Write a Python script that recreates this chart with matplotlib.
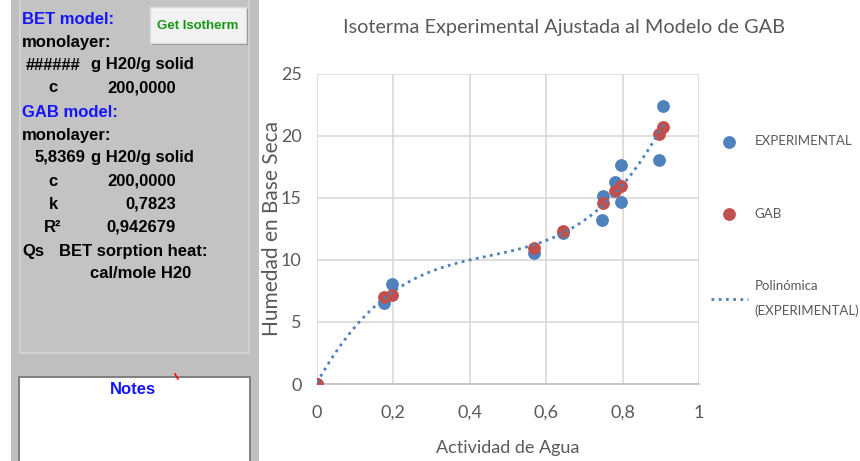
import numpy as np
import matplotlib
matplotlib.use("Agg")
import matplotlib.pyplot as plt
from matplotlib.patches import Rectangle

# ── data ───────────────────────────────────────────────────────────────────────
aw_exp = [0.0, 0.176, 0.196, 0.568, 0.645, 0.747, 0.749, 0.780, 0.795, 0.795, 0.895, 0.906]
hum_exp = [0.0, 6.5, 8.1, 10.6, 12.15, 13.2, 15.2, 16.3, 17.7, 14.7, 18.1, 22.4]

aw_gab = [0.0, 0.176, 0.196, 0.568, 0.645, 0.749, 0.780, 0.795, 0.895, 0.906]
hum_gab = [0.0, 7.05, 7.15, 11.0, 12.3, 14.6, 15.6, 16.0, 20.2, 20.7]

x_ticks = [0, 0.2, 0.4, 0.6, 0.8, 1.0]
x_ticklabels = ["0", "0,2", "0,4", "0,6", "0,8", "1"]
y_ticks = [0, 5, 10, 15, 20, 25]

BLUE = "#4f81bd"
RED = "#c0504d"
GRAY_TXT = "#595959"
CHART_FONT = ["Lato", "DejaVu Sans"]
SANS = ["Liberation Sans", "DejaVu Sans"]

W, H = 860, 461
fig = plt.figure(figsize=(W / 100, H / 100), dpi=100)
fig.patch.set_facecolor("white")

# ── left form panel (pixel coordinates) ───────────────────────────────────────
pan = fig.add_axes([0, 0, 1, 1], zorder=0)
pan.set_xlim(0, W)
pan.set_ylim(H, 0)
pan.axis("off")

pan.add_patch(Rectangle((11, 0), 248, H, facecolor="#c0c0c0", edgecolor="none"))
pan.add_patch(Rectangle((20, -2), 229, 355, facecolor="#c3c3c3", edgecolor="#d6d6d6", lw=1.2))
pan.add_patch(Rectangle((19, 377), 231, 90, facecolor="white", edgecolor="#7f7f7f", lw=1.4))
pan.plot([175, 178], [374, 379], color="red", lw=1.2)

# button
pan.add_patch(Rectangle((152, 9), 96, 36, facecolor="#8a8a8a", edgecolor="none"))
pan.add_patch(Rectangle((150, 7), 96, 36, facecolor="#f2f2f2", edgecolor="#dcdcdc", lw=1))
pan.text(198, 26, "Get Isotherm", color="#149614", fontsize=9.5, fontweight="bold",
         family=SANS, ha="center", va="center")

kw = dict(fontsize=12, fontweight="bold", family=SANS, va="center")
pan.text(22, 19, "BET model:", color="#1414ff", ha="left", **kw)
pan.text(22, 42, "monolayer:", color="black", ha="left", **kw)
pan.text(26, 65, "######", color="black", ha="left", **kw)
pan.text(91, 65, "g H20/g solid", color="black", ha="left", **kw)
pan.text(53, 88, "c", color="black", ha="center", **kw)
pan.text(176, 88, "200,0000", color="black", ha="right", **kw)
pan.text(22, 112, "GAB model:", color="#1414ff", ha="left", **kw)
pan.text(22, 135, "monolayer:", color="black", ha="left", **kw)
pan.text(35, 157, "5,8369", color="black", ha="left", **kw)
pan.text(91, 157, "g H20/g solid", color="black", ha="left", **kw)
pan.text(53, 181, "c", color="black", ha="center", **kw)
pan.text(176, 181, "200,0000", color="black", ha="right", **kw)
pan.text(53, 204, "k", color="black", ha="center", **kw)
pan.text(176, 204, "0,7823", color="black", ha="right", **kw)
pan.text(53, 227, "R²", color="black", ha="center", **kw)
pan.text(176, 227, "0,942679", color="black", ha="right", **kw)
pan.text(22, 251, "Qs", color="black", ha="left", **kw)
pan.text(59, 251, "BET sorption heat:", color="black", ha="left", **kw)
pan.text(90, 273, "cal/mole H20", color="black", ha="left", **kw)
pan.text(133, 389, "Notes", color="#1414ff", ha="center", **kw)

# ── chart ──────────────────────────────────────────────────────────────────────
ax_l, ax_b, ax_w, ax_h = 317, 77, 382, 310
ax = fig.add_axes([ax_l / W, ax_b / H, ax_w / W, ax_h / H], zorder=2)
ax.set_facecolor("none")

ax.scatter(aw_exp, hum_exp, s=85, color=BLUE, zorder=3, linewidths=0, label="EXPERIMENTAL")
ax.scatter(aw_gab, hum_gab, s=85, color=RED, zorder=4, linewidths=0, label="GAB")

# Excel-style polynomial trendline of the experimental series
coef = np.polyfit(aw_exp, hum_exp, 3)
xs = np.linspace(min(aw_exp), max(aw_exp), 200)
ax.plot(xs, np.polyval(coef, xs), color=BLUE, lw=2, ls=(0, (1, 1.6)), zorder=5,
        label="Polinómica\n(EXPERIMENTAL)")

ax.set_xlim(0, 1)
ax.set_ylim(0, 25)
ax.set_xticks(x_ticks)
ax.set_xticklabels(x_ticklabels)
ax.set_yticks(y_ticks)
ax.grid(True, color="#d9d9d9", lw=1.2, zorder=0)
for s in ["top", "right", "left"]:
    ax.spines[s].set_visible(False)
ax.spines["bottom"].set_color("#bfbfbf")
ax.spines["bottom"].set_linewidth(1.2)
ax.tick_params(length=0, colors=GRAY_TXT, labelsize=13)
ax.tick_params(axis="y", pad=11)
ax.tick_params(axis="x", pad=15)
for lab in ax.get_xticklabels() + ax.get_yticklabels():
    lab.set_family(CHART_FONT)

ax.set_xlabel("Actividad de Agua", fontsize=13, color=GRAY_TXT, family=CHART_FONT, labelpad=14)
ax.set_ylabel("Humedad en Base Seca", fontsize=15, color=GRAY_TXT, family=CHART_FONT,
              labelpad=-1)
fig.text(564 / W, 1 - 27 / H, "Isoterma Experimental Ajustada al Modelo de GAB",
         fontsize=14.3, color=GRAY_TXT, family=CHART_FONT, ha="center", va="center")

leg = ax.legend(loc="upper left", bbox_to_anchor=((711 - ax_l) / ax_w, 1 - (135 - 74) / ax_h),
                frameon=False, labelcolor=GRAY_TXT, prop={"family": CHART_FONT, "size": 9.5},
                labelspacing=4.6, handlelength=2.8, handletextpad=0.5, borderaxespad=0,
                borderpad=0)
for t in leg.get_texts():
    t.set_linespacing(2.1)

fig.savefig("out.png", dpi=100)
